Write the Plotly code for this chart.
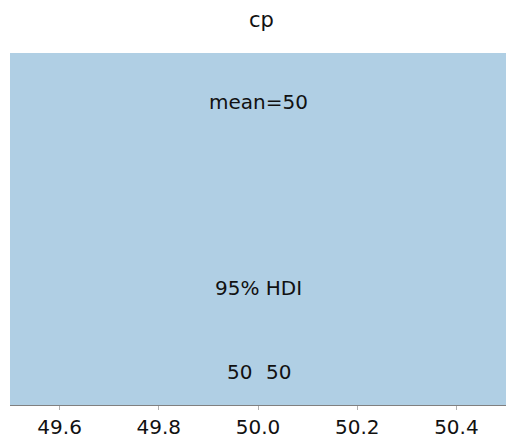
import plotly.graph_objects as go

# posterior of cp: constant value -> flat band over the whole range
x_vals = [49.5, 50.5]
density = [1.0, 1.0]
mean_val = 50
hdi_low, hdi_high = 50, 50
ticks = [49.6, 49.8, 50.0, 50.2, 50.4]

fig = go.Figure()
fig.add_trace(go.Scatter(x=x_vals, y=density, mode="lines", fill="tozeroy",
                         fillcolor="rgb(176,207,228)", line=dict(width=0),
                         hoverinfo="skip", showlegend=False))

font = dict(family="DejaVu Sans", size=20, color="#111111")
fig.add_annotation(x=50.0, y=0.861, text=f"mean={mean_val}", showarrow=False, font=font)
fig.add_annotation(x=50.0, y=0.332, text="95% HDI", showarrow=False, font=font)
fig.add_annotation(x=49.962, y=0.094, text=str(hdi_low), showarrow=False, font=font)
fig.add_annotation(x=50.042, y=0.094, text=str(hdi_high), showarrow=False, font=font)

# page body has an 8px margin, so the figure is sized to fit inside it
fig.update_layout(
    width=507, height=435,
    margin=dict(l=2, r=9, t=45, b=38),
    paper_bgcolor="white", plot_bgcolor="white",
    title=dict(text="cp", x=0.5, xanchor="center", y=0.973, yanchor="middle",
               font=dict(family="DejaVu Sans", size=21, color="#111111")),
    xaxis=dict(range=[49.5, 50.5], tickvals=ticks, tickformat=".1f",
               showgrid=False, zeroline=False, showline=True, linecolor="#808080",
               linewidth=1, ticks="outside", ticklen=4, tickcolor="#b0b0b0",
               tickfont=dict(family="DejaVu Sans", size=20, color="#111111")),
    yaxis=dict(range=[0, 1], visible=False, showgrid=False, zeroline=False),
)

fig.write_html("out.html")
